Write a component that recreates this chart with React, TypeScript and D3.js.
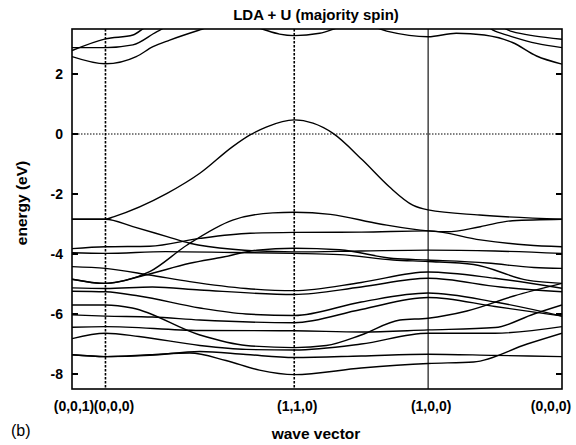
import React from "react";
import * as d3 from "d3";

// High-symmetry points along the k-path (path length in units of the Γ–X distance)
const kPoints = [0, 0.25, 1.66, 2.66, 3.66];
const kLabels = ["(0,0,1)", "(0,0,0)", "(1,1,0)", "(1,0,0)", "(0,0,0)"];
const yTicks = [-8, -6, -4, -2, 0, 2];

// Conduction bands (clipped at the top of the window)
const cond1 = [[0, 2.58], [0.25, 2.34], [0.48, 2.58], [0.605, 2.91], [0.73, 3.13], [0.955, 3.47], [1.2, 3.8], [1.42, 3.5], [1.55, 3.33], [1.66, 3.28], [1.85, 3.36], [2.05, 3.6], [2.2, 3.62], [2.35, 3.43], [2.66, 3.24], [2.87, 3.36], [3.08, 3.3], [3.29, 3.05], [3.47, 2.6], [3.66, 2.33]];
const cond2 = [[0, 2.88], [0.25, 2.88], [0.455, 2.97], [0.635, 3.41], [0.8, 3.75], [3.0, 3.8], [3.16, 3.43], [3.29, 3.24], [3.47, 3.02], [3.66, 2.88]];
const cond3 = [[0, 2.78], [0.25, 3.17], [0.455, 3.3], [0.58, 3.6], [3.1, 3.75], [3.29, 3.41], [3.45, 3.27], [3.66, 3.16]];

// Band crossing the Fermi level
const fermiBand = [[0, -2.84], [0.25, -2.84], [0.31, -2.76], [0.71, -1.98], [0.955, -1.31], [1.2, -0.42], [1.33, -0.03], [1.455, 0.24], [1.66, 0.47], [1.8, 0.36], [1.95, 0.02], [2.17, -0.87], [2.37, -1.76], [2.545, -2.37], [2.66, -2.53], [3.045, -2.7], [3.66, -2.84]];

// Valence bands
const val1 = [[0, -2.84], [0.25, -2.84], [0.455, -3.09], [0.71, -3.42], [0.88, -3.64], [1.2, -3.84], [1.66, -3.93], [2.16, -3.9], [2.66, -3.87], [3.16, -3.9], [3.66, -3.98]];
const val2 = [[0, -3.82], [0.25, -3.76], [0.58, -3.74], [0.955, -3.48], [1.33, -3.31], [1.66, -3.28], [2.16, -3.27], [2.66, -3.23], [3.05, -3.53], [3.4, -3.7], [3.66, -3.76]];
const val3 = [[0, -3.96], [0.25, -3.98], [0.7, -3.92], [1.2, -3.95], [1.66, -3.98], [2.0, -4.02], [2.4, -4.2], [2.66, -4.25], [3.0, -4.35], [3.4, -4.87], [3.66, -4.98]];
const val4 = [[0, -4.42], [0.25, -4.48], [0.58, -4.7], [0.88, -4.92], [1.3, -5.15], [1.66, -5.22], [2.16, -4.95], [2.66, -4.6], [3.16, -4.81], [3.66, -5.14]];
const val5 = [[0, -4.84], [0.25, -4.98], [0.4, -4.88], [0.58, -4.59], [0.86, -3.7], [1.2, -2.87], [1.5, -2.63], [1.66, -2.61], [1.93, -2.68], [2.3, -3.0], [2.66, -3.23], [2.8, -3.26], [3.05, -3.09], [3.29, -2.89], [3.66, -2.84]];
const val6 = [[0, -4.84], [0.25, -4.98], [0.55, -4.7], [0.88, -4.31], [1.13, -4.1], [1.38, -3.87], [1.66, -3.81], [2.0, -3.86], [2.4, -4.15], [2.66, -4.2], [3.1, -4.3], [3.45, -4.45], [3.66, -4.48]];
const val7 = [[0, -5.13], [0.25, -5.15], [0.6, -5.1], [0.955, -5.2], [1.66, -5.35], [2.16, -5.1], [2.66, -4.81], [3.2, -5.1], [3.66, -5.26]];
const val8 = [[0, -5.24], [0.25, -5.26], [0.5, -5.4], [0.955, -5.8], [1.3, -6.0], [1.66, -6.05], [2.16, -5.6], [2.66, -5.3], [3.16, -5.6], [3.66, -6.07]];
const val9 = [[0, -5.7], [0.25, -5.7], [0.45, -5.8], [0.955, -6.7], [1.3, -7.05], [1.66, -7.12], [1.9, -7.05], [2.16, -6.7], [2.45, -6.2], [2.66, -6.14], [2.95, -5.9], [3.3, -5.4], [3.66, -4.98]];
const val10 = [[0, -6.03], [0.25, -6.07], [0.6, -6.1], [0.955, -6.2], [1.66, -6.29], [2.16, -5.85], [2.66, -5.45], [3.16, -5.75], [3.66, -6.07]];
const val11 = [[0, -6.44], [0.25, -6.42], [0.955, -6.55], [1.66, -6.56], [2.16, -6.6], [2.66, -6.53], [3.16, -6.45], [3.45, -6.0], [3.66, -5.7]];
const val12 = [[0, -6.82], [0.25, -6.64], [0.5, -6.75], [0.955, -7.05], [1.3, -7.18], [1.66, -7.2], [2.16, -7.0], [2.66, -6.64], [3.16, -6.64], [3.66, -6.42]];
const val13 = [[0, -7.36], [0.25, -7.42], [0.58, -7.36], [0.88, -7.3], [1.15, -7.55], [1.4, -7.87], [1.66, -8.02], [2.16, -7.8], [2.66, -7.65], [3.0, -7.6], [3.4, -7.0], [3.66, -6.64]];
const val14 = [[0, -7.36], [0.25, -7.42], [0.58, -7.38], [0.955, -7.25], [1.3, -7.35], [1.66, -7.45], [2.16, -7.4], [2.66, -7.34], [3.16, -7.38], [3.66, -7.42]];

const bands = [cond1, cond2, cond3, fermiBand, val1, val2, val3, val4, val5, val6, val7, val8, val9, val10, val11, val12, val13, val14];

const W = 576;
const H = 445;
const left = 72;
const right = 562;
const top = 29;
const bottom = 389;
const font = "'Liberation Sans', Arial, Helvetica, sans-serif";

export default function App() {
  const x = d3.scaleLinear().domain([0, 3.66]).range([left, right]);
  const y = d3.scaleLinear().domain([-8.5, 3.5]).range([bottom, top]);
  const line = d3
    .line<number[]>()
    .x((d) => x(d[0]))
    .y((d) => y(d[1]))
    .curve(d3.curveMonotoneX);

  // label anchors: the two left labels share the narrow Z–Γ segment, the last one stays inside the page
  const labelX = [74, 114, x(kPoints[2]) + 3, x(kPoints[3]) + 3, 551];

  return (
    <svg width={W} height={H} style={{ position: "absolute", left: 0, top: 0, background: "#fff" }}>
      <defs>
        <clipPath id="plotArea">
          <rect x={left} y={top} width={right - left} height={bottom - top} />
        </clipPath>
      </defs>

      {/* Fermi level */}
      <line x1={left} x2={right} y1={y(0)} y2={y(0)} stroke="#000" strokeWidth={1} strokeDasharray="1.5,1.5" />

      {/* symmetry-point verticals */}
      {[kPoints[1], kPoints[2]].map((k, i) => (
        <line key={i} x1={x(k)} x2={x(k)} y1={top} y2={bottom} stroke="#000" strokeWidth={1.6} strokeDasharray="2.5,1.5" />
      ))}
      <line x1={x(kPoints[3])} x2={x(kPoints[3])} y1={top} y2={bottom} stroke="#000" strokeWidth={1.1} />

      {/* bands */}
      <g clipPath="url(#plotArea)" fill="none" stroke="#000" strokeWidth={1.4}>
        {bands.map((b, i) => (
          <path key={i} d={line(b) || ""} />
        ))}
      </g>

      {/* frame */}
      <rect x={left} y={top} width={right - left} height={bottom - top} fill="none" stroke="#000" strokeWidth={1.6} />

      {/* y ticks */}
      {yTicks.map((t) => (
        <g key={t}>
          <line x1={left} x2={left + 6} y1={y(t)} y2={y(t)} stroke="#000" strokeWidth={2} />
          <line x1={right - 6} x2={right} y1={y(t)} y2={y(t)} stroke="#000" strokeWidth={2} />
          <text x={63} y={y(t) + 5} textAnchor="end" fontFamily={font} fontWeight="bold" fontSize={14}>
            {t}
          </text>
        </g>
      ))}

      {/* k-point labels */}
      {kLabels.map((l, i) => (
        <text key={i} x={labelX[i]} y={411} textAnchor="middle" fontFamily={font} fontWeight="bold" fontSize={14}>
          {l}
        </text>
      ))}

      <text x={316} y={20} textAnchor="middle" fontFamily={font} fontWeight="bold" fontSize={15}>
        LDA + U (majority spin)
      </text>
      <text
        transform={`translate(27,${203}) rotate(-90)`}
        textAnchor="middle"
        fontFamily={font}
        fontWeight="bold"
        fontSize={15.5}
      >
        energy (eV)
      </text>
      <text x={316} y={439} textAnchor="middle" fontFamily={font} fontWeight="bold" fontSize={15.5}>
        wave vector
      </text>
      <text x={11} y={436} fontFamily={font} fontSize={16}>
        (b)
      </text>
    </svg>
  );
}
